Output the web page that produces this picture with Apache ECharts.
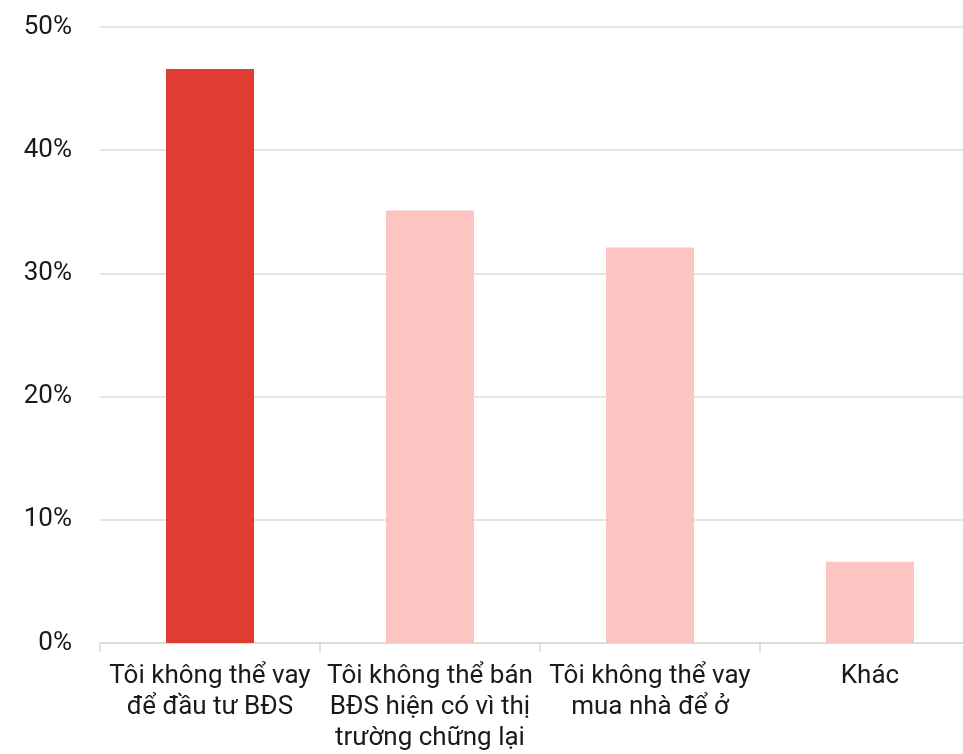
<!DOCTYPE html>
<html>
<head>
<meta charset="utf-8">
<script src="https://cdn.jsdelivr.net/npm/echarts@6/dist/echarts.min.js"></script>
<style>
html,body{margin:0;padding:0;background:#fff;overflow:hidden;width:963px;height:754px;}
#chart{width:980px;height:754px;}
</style>
</head>
<body>
<div id="chart"></div>
<script>
const categories = [
  "Tôi không thể vay\nđể đầu tư BĐS",
  "Tôi không thể bán\nBĐS hiện có vì thị\ntrường chững lại",
  "Tôi không thể vay\nmua nhà để ở",
  "Khác"
];
const values = [46.6, 35.1, 32.1, 6.6];
const yTicks = [0, 10, 20, 30, 40, 50];
const highlightIndex = 0;

const chart = echarts.init(document.getElementById('chart'), null, {renderer: 'canvas'});
chart.setOption({
  animation: false,
  textStyle: {fontFamily: 'Roboto'},
  grid: {left: 100, right: 0, top: 27, bottom: 111, containLabel: false},
  xAxis: {
    type: 'category',
    data: categories,
    axisLine: {show: true, lineStyle: {color: '#d9d9d9', width: 1.5}},
    axisTick: {show: true, length: 9, lineStyle: {color: '#d9d9d9', width: 1.5}},
    axisLabel: {
      color: '#1a1a1a', fontSize: 26, fontFamily: 'Roboto',
      lineHeight: 31, margin: 18, interval: 0, align: 'center'
    }
  },
  yAxis: {
    type: 'value',
    min: yTicks[0],
    max: yTicks[yTicks.length - 1],
    interval: 10,
    axisLine: {show: false},
    axisTick: {show: false},
    splitLine: {lineStyle: {color: '#dcdcdc', width: 1.5}},
    axisLabel: {
      color: '#1a1a1a', fontSize: 26, fontFamily: 'Roboto', margin: 28,
      formatter: v => v + '%'
    }
  },
  series: [{
    type: 'bar',
    data: values,
    barWidth: '40%',
    itemStyle: {
      color: p => p.dataIndex === highlightIndex ? '#E03C31' : '#FDC5C2'
    }
  }]
});
</script>
</body>
</html>
